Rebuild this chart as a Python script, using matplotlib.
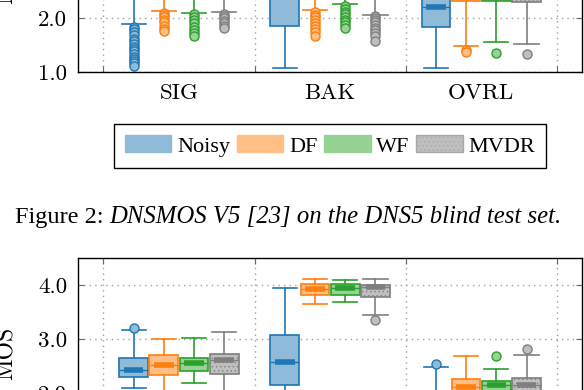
import numpy as np
import matplotlib.pyplot as plt
from matplotlib.patches import Patch
from matplotlib.ticker import FixedLocator, FormatStrFormatter

plt.rcParams["font.family"] = "cmr10"
plt.rcParams["axes.formatter.use_mathtext"] = True
plt.rcParams["hatch.linewidth"] = 0.5

metrics = ["SIG", "BAK", "OVRL"]
systems = ["Noisy", "DF", "WF", "MVDR"]
edge_colors = ["#1f77b4", "#ff7f0e", "#2ca02c", "#7f7f7f"]
fill_colors = ["#8fbbd9", "#ffbf87", "#96d294", "#bfbfbf"]
offsets = [-0.3, -0.1, 0.1, 0.3]

# upper panel (DNS5 blind test set), rows = systems, cols = SIG, BAK, OVRL
blind_lo = [[1.89, 1.08, 1.07], [2.13, 2.14, 1.49], [2.09, 2.25, 1.55], [2.11, 2.06, 1.51]]
blind_q1 = [[2.75, 1.86, 1.84], [2.95, 3.30, 2.31], [2.90, 3.40, 2.32], [2.95, 3.30, 2.29]]
blind_med = [[3.15, 2.90, 2.21], [3.25, 3.60, 2.60], [3.20, 3.65, 2.60], [3.25, 3.55, 2.58]]
blind_q3 = [[3.40, 3.60, 2.60], [3.45, 3.75, 2.85], [3.40, 3.80, 2.85], [3.45, 3.70, 2.82]]
blind_hi = [[3.90, 4.20, 3.30], [3.95, 4.10, 3.50], [3.90, 4.15, 3.50], [3.95, 4.05, 3.45]]
blind_fliers = [
    [[1.84, 1.80, 1.74, 1.68, 1.62, 1.57, 1.52, 1.47, 1.42, 1.38, 1.33, 1.28, 1.24, 1.20, 1.16, 1.12], [], []],
    [[2.10, 2.06, 2.02, 1.97, 1.92, 1.86, 1.80, 1.76], [2.11, 2.06, 2.01, 1.96, 1.91, 1.86, 1.80, 1.74, 1.67], [1.40, 1.37]],
    [[2.07, 2.02, 1.96, 1.90, 1.84, 1.78, 1.72, 1.66], [2.22, 2.17, 2.12, 2.07, 2.02, 1.97, 1.92, 1.87, 1.81], [1.36]],
    [[2.08, 2.04, 2.00, 1.95, 1.90, 1.85, 1.81], [2.04, 2.00, 1.96, 1.92, 1.87, 1.82, 1.77, 1.72, 1.66, 1.58], [1.33]],
]

# lower panel (next figure, only the upper part is visible)
low_lo = [[2.11, 1.30, 1.20], [1.90, 3.65, 1.60], [2.20, 3.69, 1.85], [1.95, 3.45, 1.80]]
low_q1 = [[2.30, 2.17, 1.55], [2.34, 3.81, 1.90], [2.42, 3.81, 1.98], [2.36, 3.78, 1.98]]
low_med = [[2.44, 2.58, 1.70], [2.52, 3.93, 2.12], [2.56, 3.95, 2.16], [2.63, 3.96, 2.16]]
low_q3 = [[2.66, 3.08, 1.90], [2.71, 4.02, 2.27], [2.66, 4.03, 2.24], [2.73, 4.01, 2.29]]
low_hi = [[3.17, 3.95, 2.50], [3.01, 4.11, 2.70], [3.03, 4.10, 2.45], [3.13, 4.11, 2.71]]
low_fliers = [
    [[3.21], [], [2.54]],
    [[], [], []],
    [[], [], [2.70]],
    [[], [3.36], [2.82]],
]


def draw_panel(ax, lo, q1, med, q3, hi, fliers):
    for i in range(len(systems)):
        stats = []
        for j in range(len(metrics)):
            stats.append(dict(whislo=lo[i][j], q1=q1[i][j], med=med[i][j],
                              q3=q3[i][j], whishi=hi[i][j], fliers=fliers[i][j]))
        pos = np.arange(len(metrics)) + offsets[i]
        ec = edge_colors[i]
        parts = ax.bxp(stats, positions=pos, widths=0.19, capwidths=0.16,
                       patch_artist=True, manage_ticks=False,
                       boxprops=dict(facecolor=fill_colors[i], edgecolor=ec, linewidth=1.2),
                       whiskerprops=dict(color=ec, linewidth=1.2),
                       capprops=dict(color=ec, linewidth=1.2),
                       medianprops=dict(color=ec, linewidth=1.0),
                       flierprops=dict(marker="o", markersize=6.5, markerfacecolor=fill_colors[i],
                                       markeredgecolor=ec, markeredgewidth=1.0))
        if i == 3:
            for b in parts["boxes"]:
                b.set_hatch("....")
        ax.hlines(med[i], pos - 0.065, pos + 0.065, colors=ec, linewidth=4, zorder=3)

    ax.set_xlim(-0.67, 2.67)
    ax.set_ylim(1.0, 4.5)
    ax.xaxis.set_major_locator(FixedLocator([0, 1, 2]))
    ax.set_xticklabels(metrics)
    ax.xaxis.set_minor_locator(FixedLocator([-0.5, 0.5, 1.5, 2.5]))
    ax.yaxis.set_major_locator(FixedLocator([1.0, 2.0, 3.0, 4.0]))
    ax.yaxis.set_major_formatter(FormatStrFormatter("%.1f"))
    ax.tick_params(axis="x", which="major", length=0, labelsize=16.5, pad=8)
    ax.tick_params(axis="x", which="minor", direction="in", top=True, bottom=True,
                   length=4, width=0.8, color="#666666")
    ax.tick_params(axis="y", direction="in", left=True, right=True, length=4,
                   width=0.8, color="#666666", labelsize=16.5, pad=7.5)
    ax.grid(True, which="minor", axis="x", linestyle=(0, (1, 3)), color="#a0a0a0", linewidth=1)
    ax.grid(True, which="major", axis="y", linestyle=(0, (1, 3)), color="#a0a0a0", linewidth=1)
    ax.set_axisbelow(True)
    for s in ax.spines.values():
        s.set_linewidth(1.0)
    ax.set_ylabel("MOS", fontsize=17)
    ax.yaxis.set_label_coords(-0.118, 0.5)


fig = plt.figure(figsize=(5.84, 3.90), dpi=100)
ax1 = fig.add_axes([0.1330, 0.8154, 0.8644, 0.4846])
ax2 = fig.add_axes([0.1330, -0.1488, 0.8644, 0.4873])

draw_panel(ax1, blind_lo, blind_q1, blind_med, blind_q3, blind_hi, blind_fliers)
draw_panel(ax2, low_lo, low_q1, low_med, low_q3, low_hi, low_fliers)

handles = []
for i, name in enumerate(systems):
    h = Patch(facecolor=fill_colors[i], edgecolor=fill_colors[i], label=name)
    if i == 3:
        h.set_hatch("....")
        h.set_edgecolor("#a8a8a8")
    handles.append(h)

serif = ["Liberation Serif", "DejaVu Serif"]
leg = fig.legend(handles=handles, loc="center", ncol=4,
                 bbox_to_anchor=(330 / 584, 1 - 146 / 390), bbox_transform=fig.transFigure,
                 prop=dict(family=serif, size=16), frameon=True, fancybox=False,
                 edgecolor="black", framealpha=1, handlelength=2.1, handleheight=0.8,
                 handletextpad=0.25, columnspacing=0.3, borderpad=0.5, borderaxespad=0)
leg.get_frame().set_linewidth(1.0)

t1 = fig.text(15 / 584, 1 - 223.5 / 390, "Figure 2: ", family=serif, size=17.5, va="baseline")
ax1.annotate("DNSMOS V5 [23] on the DNS5 blind test set.", xy=(1, 0), xycoords=t1,
             va="bottom", ha="left", family=serif, size=17.8, style="italic",
             annotation_clip=False)

fig.savefig("out.png", dpi=100)
